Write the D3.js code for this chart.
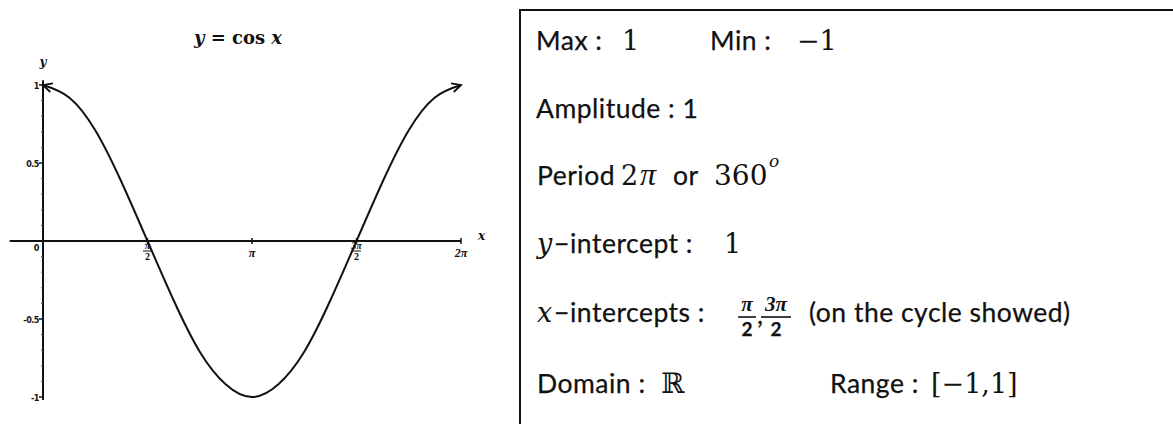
<!DOCTYPE html>
<html>
<head>
<meta charset="utf-8">
<script src="https://cdn.jsdelivr.net/npm/d3@7"></script>
<style>
  body { margin: 0; background: #fff; }
  svg { display: block; }
  .calib { font-family: Lato, "Open Sans", sans-serif; font-size: 26.5px; letter-spacing: 0.5px; fill: #111; stroke: #111; stroke-width: 0.25px; }
  .math { font-family: "DejaVu Serif", serif; fill: #111; }
  .greek { font-family: "Liberation Serif", serif; fill: #111; }
</style>
</head>
<body>
<div id="chart"></div>
<script>
// sample points of the drawn curve, x given in multiples of pi
var curveXPi = [0, 0.125, 0.25, 0.375, 0.5, 0.625, 0.75, 0.875, 1, 1.125, 1.25, 1.375, 1.5, 1.625, 1.75, 1.875, 2];
var curveY = [1, 0.92, 0.71, 0.38, 0, -0.38, -0.71, -0.92, -1, -0.92, -0.71, -0.38, 0, 0.38, 0.71, 0.92, 1];

var xTicksPi = [0.5, 1, 1.5, 2];
var xTickTop = ["π", "π", "3π", "2π"];
var xTickBottom = ["2", "", "2", ""];

var yTicks = [1, 0.5, 0, -0.5, -1];
var yTickLabels = ["1", "0.5", "0", "-0.5", "-1"];
var yMinorTicks = [0.9, 0.8, 0.7, 0.6, 0.4, 0.3, 0.2, 0.1, -0.1, -0.2, -0.3, -0.4, -0.6, -0.7, -0.8, -0.9];

var W = 1173, H = 424;
var PI = Math.PI;

var svg = d3.select("#chart").append("svg")
    .attr("width", W)
    .attr("height", H);

var x = d3.scaleLinear().domain([0, 2 * PI]).range([43, 461]);
var y = d3.scaleLinear().domain([-1, 1]).range([397, 85]);

// arrow marker for the curve ends
svg.append("defs").append("marker")
    .attr("id", "arrow")
    .attr("markerUnits", "userSpaceOnUse")
    .attr("viewBox", "-1 -6 12 12")
    .attr("refX", 9)
    .attr("refY", 0)
    .attr("markerWidth", 12)
    .attr("markerHeight", 12)
    .attr("orient", "auto-start-reverse")
    .append("path")
    .attr("d", "M0,-4.5 L9,0 L0,4.5")
    .attr("fill", "none")
    .attr("stroke", "#111")
    .attr("stroke-width", 1.8);

// title
var title = svg.append("text")
    .attr("x", 238)
    .attr("y", 44)
    .attr("text-anchor", "middle")
    .attr("class", "math")
    .style("font-size", "18px")
    .style("font-weight", "bold");
title.append("tspan").style("font-style", "italic").text("y");
title.append("tspan").text(" = cos ");
title.append("tspan").style("font-style", "italic").text("x");

// x axis
svg.append("line")
    .attr("x1", x(-0.5)).attr("x2", x(2 * PI))
    .attr("y1", y(0)).attr("y2", y(0))
    .attr("stroke", "#111")
    .attr("stroke-width", 2);

svg.selectAll(".xtick")
    .data(xTicksPi)
    .enter().append("line")
    .attr("class", "xtick")
    .attr("x1", function (d) { return x(d * PI); })
    .attr("x2", function (d) { return x(d * PI); })
    .attr("y1", y(0) - 3)
    .attr("y2", y(0) + 3)
    .attr("stroke", "#111")
    .attr("stroke-width", 1.5);

var xl = svg.selectAll(".xlab")
    .data(xTicksPi)
    .enter().append("g")
    .attr("class", "xlab")
    .attr("transform", function (d) { return "translate(" + x(d * PI) + ",0)"; });

xl.append("text")
    .attr("class", "greek")
    .attr("text-anchor", "middle")
    .attr("y", function (d, i) { return xTickBottom[i] ? 249 : 257; })
    .style("font-size", function (d, i) { return xTickBottom[i] ? "10px" : "12px"; })
    .style("font-style", "italic")
    .style("font-weight", "bold")
    .text(function (d, i) { return xTickTop[i]; });

xl.filter(function (d, i) { return xTickBottom[i]; })
    .append("line")
    .attr("x1", -4.5).attr("x2", 4.5)
    .attr("y1", 251).attr("y2", 251)
    .attr("stroke", "#111")
    .attr("stroke-width", 1);

xl.filter(function (d, i) { return xTickBottom[i]; })
    .append("text")
    .attr("class", "greek")
    .attr("text-anchor", "middle")
    .attr("y", 260)
    .style("font-size", "10px")
    .style("font-weight", "bold")
    .text(function (d) { return xTickBottom[xTicksPi.indexOf(d)]; });

svg.append("text")
    .attr("class", "math")
    .attr("x", 478)
    .attr("y", 240)
    .style("font-size", "12px")
    .style("font-style", "italic")
    .style("font-weight", "bold")
    .text("x");

// y axis
svg.append("line")
    .attr("x1", x(0)).attr("x2", x(0))
    .attr("y1", y(1.03)).attr("y2", y(-1.02))
    .attr("stroke", "#111")
    .attr("stroke-width", 2);

svg.selectAll(".ytick")
    .data(yTicks)
    .enter().append("line")
    .attr("class", "ytick")
    .attr("x1", x(0) - 4).attr("x2", x(0))
    .attr("y1", function (d) { return y(d); })
    .attr("y2", function (d) { return y(d); })
    .attr("stroke", "#111")
    .attr("stroke-width", 1.5);

svg.selectAll(".yminor")
    .data(yMinorTicks)
    .enter().append("line")
    .attr("class", "yminor")
    .attr("x1", x(0) - 2).attr("x2", x(0))
    .attr("y1", function (d) { return y(d); })
    .attr("y2", function (d) { return y(d); })
    .attr("stroke", "#555")
    .attr("stroke-width", 1);

svg.selectAll(".ylab")
    .data(yTicks)
    .enter().append("text")
    .attr("class", "ylab")
    .attr("x", x(0) - 4)
    .attr("y", function (d) { return d == 0 ? y(d) + 10 : y(d) + 4; })
    .attr("text-anchor", "end")
    .style("font-family", "'DejaVu Sans Condensed', 'DejaVu Sans', sans-serif")
    .style("font-size", "9px")
    .style("font-weight", "bold")
    .style("letter-spacing", "-0.5px")
    .attr("fill", "#111")
    .text(function (d, i) { return yTickLabels[i]; });

svg.append("text")
    .attr("class", "math")
    .attr("x", 43)
    .attr("y", 66)
    .attr("text-anchor", "middle")
    .style("font-size", "12px")
    .style("font-style", "italic")
    .style("font-weight", "bold")
    .text("y");

// the curve
var line = d3.line()
    .x(function (d, i) { return x(curveXPi[i] * PI); })
    .y(function (d) { return y(d); })
    .curve(d3.curveNatural);

svg.append("path")
    .datum(curveY)
    .attr("d", line)
    .attr("fill", "none")
    .attr("stroke", "#111")
    .attr("stroke-width", 2)
    .attr("marker-start", "url(#arrow)")
    .attr("marker-end", "url(#arrow)");

// info box
svg.append("path")
    .attr("d", "M" + W + ",10 L520,10 L520," + H)
    .attr("fill", "none")
    .attr("stroke", "#111")
    .attr("stroke-width", 2);

function txt(xp, yp, s, cls, style) {
    var t = svg.append("text").attr("x", xp).attr("y", yp).attr("class", cls).text(s);
    if (style) {
        for (var k in style) t.style(k, style[k]);
    }
    return t;
}

var mathSize = { "font-size": "27px" };
var mathIt = { "font-size": "27px", "font-style": "italic" };
var piIt = { "font-size": "32px", "font-style": "italic" };

// row 1
txt(536, 50, "Max :", "calib");
txt(622, 50, "1", "math", mathSize);
txt(710, 50, "Min :", "calib");
txt(797, 50, "−1", "math", mathSize);

// row 2
txt(536, 118, "Amplitude : 1", "calib");

// row 3
txt(537, 185, "Period", "calib");
txt(621, 185, "2", "math", mathSize);
txt(640, 185, "π", "greek", piIt);
txt(673, 185, "or", "calib");
txt(714, 185, "360", "math", { "font-size": "28px" });
txt(769, 167, "o", "math", { "font-size": "17px", "font-style": "italic" });

// row 4
txt(537, 253, "y", "math", mathIt);
txt(554, 253, "−", "calib", { "letter-spacing": "0px" });
txt(570, 253, "intercept :", "calib");
txt(724, 253, "1", "math", mathSize);

// row 5
txt(537, 322, "x", "math", mathIt);
txt(554, 322, "−", "calib", { "letter-spacing": "0px" });
txt(570, 322, "intercepts :", "calib");
function frac(cx, top, bottom) {
    txt(cx, 311, top, "greek", { "font-size": "21px", "font-style": "italic", "font-weight": "bold", "text-anchor": "middle" });
    svg.append("line")
        .attr("x1", cx - (top.length > 1 ? 15 : 9)).attr("x2", cx + (top.length > 1 ? 15 : 9))
        .attr("y1", 317).attr("y2", 317)
        .attr("stroke", "#111").attr("stroke-width", 1.6);
    svg.append("text").attr("x", cx).attr("y", 336)
        .attr("class", "calib")
        .style("font-size", "19px")
        .style("font-weight", "bold")
        .style("letter-spacing", "0px")
        .attr("text-anchor", "middle")
        .text(bottom);
}
frac(747, "π", "2");
txt(757, 324, ",", "calib");
frac(776, "3π", "2");
txt(809, 322, "(on the cycle showed)", "calib");

// row 6
txt(537, 393, "Domain :", "calib");
txt(661, 393, "ℝ", "math", { "font-size": "28px" });
txt(830, 393, "Range :", "calib");
txt(931, 393, "[−1,1]", "math", mathSize);
</script>
</body>
</html>
